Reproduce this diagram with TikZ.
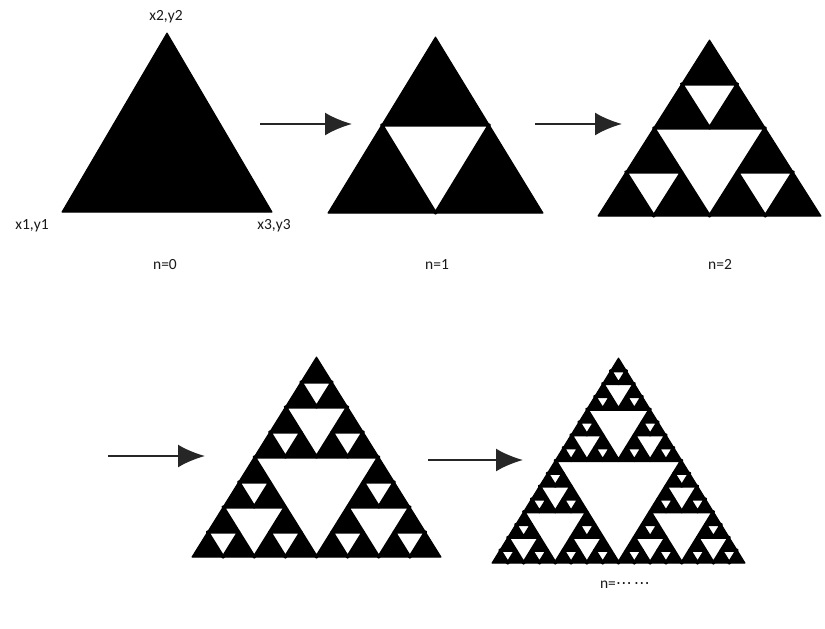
\documentclass[tikz,border=0pt]{standalone}
\usepackage{fontspec}
\setmainfont{Carlito}
\newfontfamily\symf{DejaVu Sans}
\usetikzlibrary{arrows.meta}
% holes of a unit triangle (0,0),(1,0),(.5,1), #1 levels deep
\newcommand\sierholes[1]{%
  \filldraw[hole](.25,.5)--(.75,.5)--(.5,0)--cycle;
  \ifnum#1>1
    \begin{scope}[scale=.5]\sierholes{\the\numexpr#1-1\relax}\end{scope}
    \begin{scope}[shift={(.5,0)},scale=.5]\sierholes{\the\numexpr#1-1\relax}\end{scope}
    \begin{scope}[shift={(.25,.5)},scale=.5]\sierholes{\the\numexpr#1-1\relax}\end{scope}
  \fi}
% #1 depth, #2 left x, #3 base y, #4 width, #5 height
\newcommand\sierpinski[5]{%
  \begin{scope}[shift={(#2,#3)},x=#4pt,y=#5pt]
  \filldraw[line width=1pt,line join=round](0,0)--(1,0)--(.5,1)--cycle;
  \ifnum#1>0 \sierholes{#1}\fi
  \end{scope}}
\begin{document}
\begin{tikzpicture}[x=1pt,y=-1pt,font=\fontsize{15.5}{18}\selectfont,
  hole/.style={fill=white,draw=black,line width=3.2pt,line join=round},
  lbl/.style={text=black!90,inner sep=0pt},
  stepto/.style={draw=black!85,line width=2.6pt,-{Latex[length=27pt,width=23pt]}}]
\useasboundingbox[fill=white](0,0)rectangle(825,629);
\sierpinski{0}{62}{212}{210}{179}
\sierpinski{1}{328}{213}{215}{176}
\sierpinski{2}{598}{216}{223}{176}
\sierpinski{3}{192}{557}{249}{200}
\sierpinski{4}{492}{563}{253}{205}
\node[lbl](top)at(166,17){x2,y2};
\node[lbl](left)at(32,226){x1,y1};
\node[lbl](right)at(274,226){x3,y3};
\node[lbl](n0)at(165,265){n=0};
\node[lbl](n1)at(437,265){n=1};
\node[lbl](n2)at(720,264){n=2};
\node[lbl](ndots)at(625,585){n={\symf\fontsize{16}{18}\selectfont⋯\kern2pt⋯}};
\coordinate(a0s)at(260,124);\coordinate(a0e)at(352,124);
\coordinate(a1s)at(535,124);\coordinate(a1e)at(622,124);
\coordinate(a2s)at(108,456);\coordinate(a2e)at(205,456);
\coordinate(a3s)at(428,460);\coordinate(a3e)at(523,460);
\draw[stepto](a0s)--(a0e);\draw[stepto](a1s)--(a1e);
\draw[stepto](a2s)--(a2e);\draw[stepto](a3s)--(a3e);
\end{tikzpicture}
\end{document}
